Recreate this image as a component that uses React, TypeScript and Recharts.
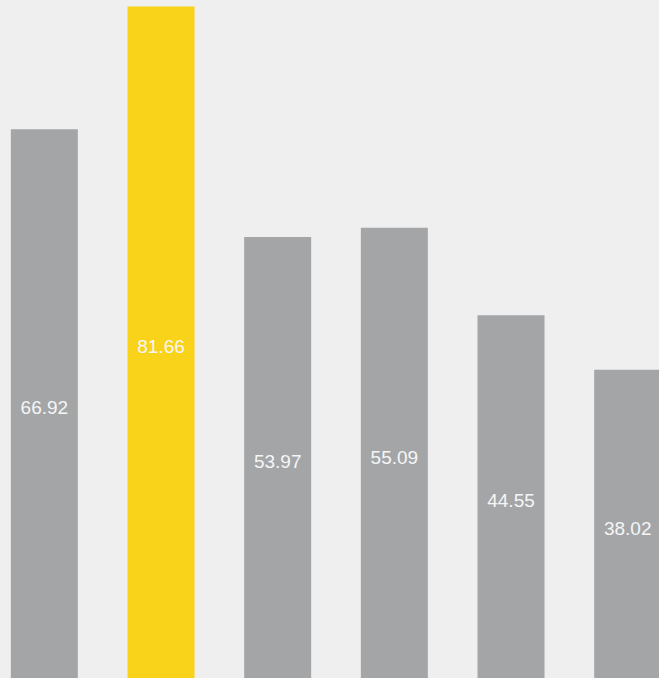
import React from "react";
import { BarChart, Bar, XAxis, YAxis, Cell, LabelList } from "recharts";

const categories = ["A", "B", "C", "D", "E", "F"];
const values = [66.92, 81.66, 53.97, 55.09, 44.55, 38.02];
const highlight = [false, true, false, false, false, false];

const data = categories.map((c, i) => ({ name: c, value: values[i] }));

const GREY = "#a3a5a7";
const YELLOW = "#f9d31a";

export default function App() {
  return (
    <div
      style={{
        position: "fixed",
        left: 0,
        top: 0,
        width: 659,
        height: 678,
        overflow: "hidden",
        background: "#efefef",
      }}
    >
      <div style={{ position: "absolute", left: -14, top: 0 }}>
        <BarChart
          width={700}
          height={686}
          data={data}
          margin={{ top: 0, right: 0, bottom: 0, left: 0 }}
          barCategoryGap="21.3%"
        >
          <XAxis dataKey="name" hide />
          <YAxis hide domain={[0, 82.45]} />
          <Bar dataKey="value" isAnimationActive={false}>
            {data.map((d, i) => (
              <Cell key={d.name} fill={highlight[i] ? YELLOW : GREY} />
            ))}
            <LabelList
              dataKey="value"
              position="center"
              fill="#f6f6f6"
              style={{ fontFamily: "'Liberation Sans', Arial, sans-serif", fontSize: 19 }}
              formatter={(v: number) => v.toFixed(2)}
            />
          </Bar>
        </BarChart>
      </div>
    </div>
  );
}
